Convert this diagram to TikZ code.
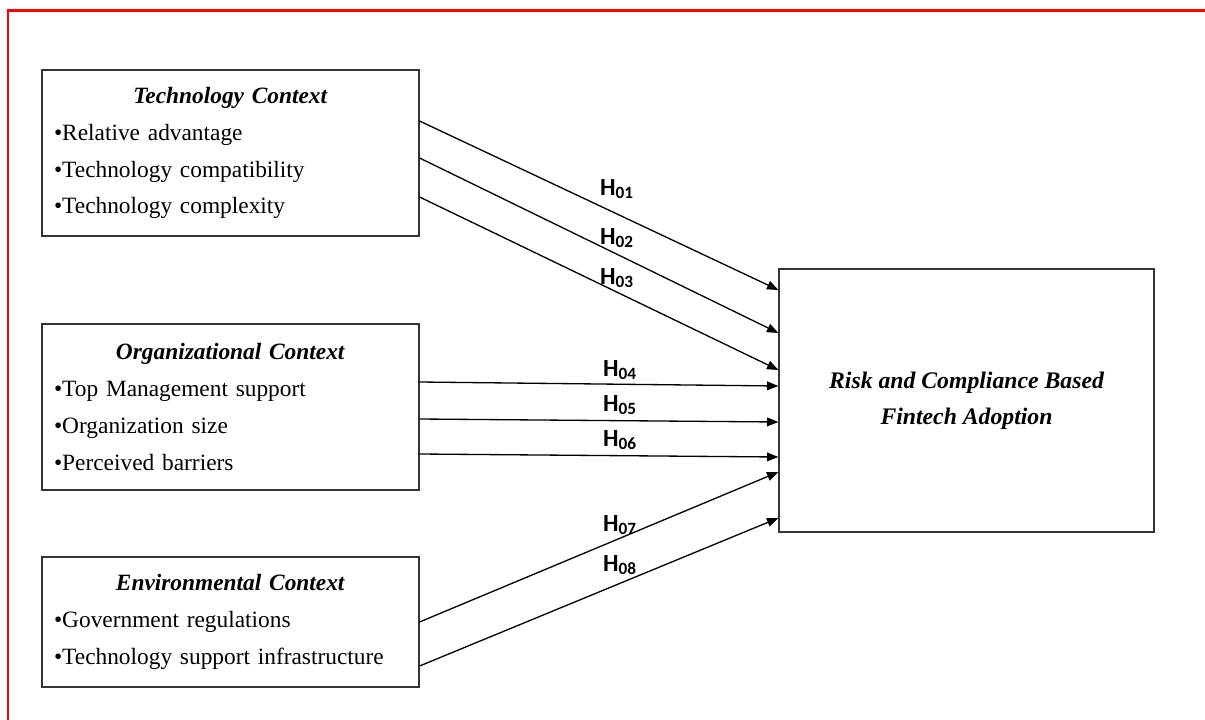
\documentclass[tikz,border=0pt]{standalone}
\usepackage{fontspec}
\setmainfont{Liberation Serif}
\newfontfamily\hypfont{Carlito}
\usetikzlibrary{arrows.meta, positioning, calc}
\newcommand\ctxfont{\fontsize{13.3}{21}\selectfont}

\begin{document}
\begin{tikzpicture}[x=0.02cm, y=-0.02cm,
            ctx/.style={draw=black!80, line width=0.7pt, inner xsep=0.24cm, inner ysep=0pt,
              text width=7.06cm, minimum height=#1, align=left, font=\ctxfont},
            outbox/.style={draw=black!80, line width=0.7pt, minimum width=7.5cm, minimum height=5.26cm,
              align=center, font=\fontsize{13.5}{20.5}\selectfont\bfseries\itshape},
            hyp/.style={draw=black, line width=0.75pt, -{Triangle[length=6.5pt, width=5pt]}},
            hlab/.style={font=\hypfont\bfseries\fontsize{14}{14}\selectfont, inner sep=0pt}]
            \useasboundingbox (0,0) rectangle (1205,720);
            \draw[red, line width=1.4pt] (8,720) -- (8,10.5) -- (1205,10.5);
            % context boxes
            \node[ctx=3.32cm] (tech) at (230.5,153)
              {{\centering\textbf{\textit{Technology Context}}\par}
               •Relative advantage\\•Technology compatibility\\•Technology complexity};
            \node[ctx=3.32cm] (org) at (230.5,407)
              {{\centering\textbf{\textit{Organizational Context}}\par}
               •Top Management support\\•Organization size\\•Perceived barriers};
            \node[ctx=2.6cm] (env) at (230.5,622)
              {{\centering\textbf{\textit{Environmental Context}}\par}
               •Government regulations\\•Technology support infrastructure};
            \node[outbox] (risk) at (966.5,400.5) {Risk and Compliance Based\\Fintech Adoption};
            % hypotheses
            \draw[hyp] (tech.east |- 0,121) -- (risk.west |- 0,290);
            \draw[hyp] (tech.east |- 0,158) -- (risk.west |- 0,333);
            \draw[hyp] (tech.east |- 0,197) -- (risk.west |- 0,370);
            \draw[hyp] (org.east |- 0,382) -- (risk.west |- 0,386);
            \draw[hyp] (org.east |- 0,419) -- (risk.west |- 0,422);
            \draw[hyp] (org.east |- 0,454) -- (risk.west |- 0,457);
            \draw[hyp] (env.east |- 0,622) -- (risk.west |- 0,472);
            \draw[hyp] (env.east |- 0,666) -- (risk.west |- 0,518);
            \node[hlab] (h1) at (617,189) {H\textsubscript{01}};
            \node[hlab] (h2) at (617,238) {H\textsubscript{02}};
            \node[hlab] (h3) at (617,278) {H\textsubscript{03}};
            \node[hlab] (h4) at (620,370) {H\textsubscript{04}};
            \node[hlab] (h5) at (620,405) {H\textsubscript{05}};
            \node[hlab] (h6) at (620,440) {H\textsubscript{06}};
            \node[hlab] (h7) at (620,525) {H\textsubscript{07}};
            \node[hlab] (h8) at (620,565) {H\textsubscript{08}};
        \end{tikzpicture}
\end{document}
